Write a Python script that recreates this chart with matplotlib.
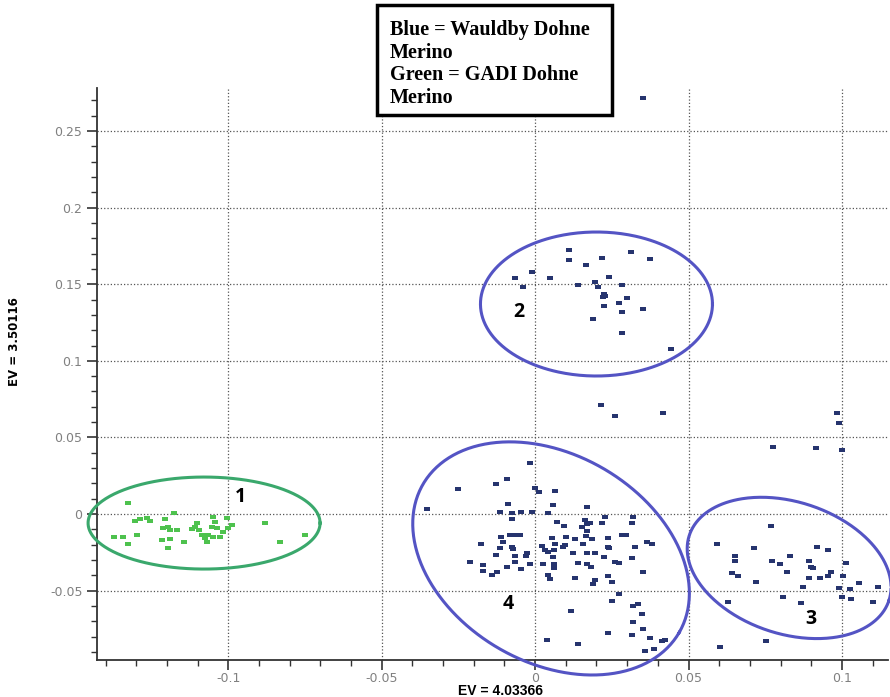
import numpy as np
import matplotlib
matplotlib.use('Agg')
import matplotlib.pyplot as plt
from matplotlib.patches import Rectangle

# GADI Dohne Merino (green)
green_x = [-0.1326, -0.1304, -0.1287, -0.1266, -0.1255, -0.1206, -0.1177, -0.1371, -0.1342, -0.1298,
           -0.1326, -0.1212, -0.1197, -0.1190, -0.1168, -0.1217, -0.1190, -0.1195, -0.1146, -0.1119,
           -0.1108, -0.1097, -0.1103, -0.1086, -0.1076, -0.1049, -0.1043, -0.1054, -0.1037, -0.1065,
           -0.1049, -0.1027, -0.1070, -0.1005, -0.0989, -0.1000, -0.1016, -0.0880, -0.0831, -0.0750]
green_y = [0.0070, -0.0044, -0.0035, -0.0028, -0.0044, -0.0035, 0.0005, -0.0148, -0.0148, -0.0137,
           -0.0198, -0.0093, -0.0083, -0.0104, -0.0104, -0.0170, -0.0163, -0.0220, -0.0181, -0.0100,
           -0.0083, -0.0104, -0.0061, -0.0137, -0.0159, -0.0018, -0.0050, -0.0083, -0.0093, -0.0137,
           -0.0148, -0.0148, -0.0181, -0.0028, -0.0072, -0.0093, -0.0116, -0.0061, -0.0185, -0.0137]

# Wauldby Dohne Merino (blue)
blue_x = [
    # group 2
    0.0109, 0.0109, -0.0011, -0.0065, -0.0040, 0.0049, 0.0166, 0.0217, 0.0312, 0.0373,
    0.0241, 0.0196, 0.0204, 0.0139, 0.0283, 0.0225, 0.0228, 0.0221, 0.0299, 0.0272,
    0.0225, 0.0351, 0.0283, 0.0190, 0.0283, 0.0442,
    # outliers
    0.0352, 0.0215, 0.0261, 0.0416, 0.0983, 0.0992, 0.0777, 0.0916, 0.1000,
    # group 3
    0.0768, 0.0592, 0.0712, 0.0652, 0.0652, 0.0771, 0.0799, 0.0831, 0.0918, 0.0954,
    0.0893, 0.0899, 0.0905, 0.1014, 0.0641, 0.0661, 0.0820, 0.0719, 0.0893, 0.0929,
    0.0956, 0.0964, 0.1005, 0.0873, 0.0992, 0.1025, 0.1057, 0.1119, 0.1000, 0.1029,
    0.1101, 0.0807, 0.0867, 0.0628, 0.0753, 0.0603,
    # group 4
    -0.0016, -0.0092, -0.0127, -0.0252, 0.0000, 0.0014, 0.0065, -0.0351, -0.0087, -0.0116,
    -0.0076, -0.0046, -0.0011, 0.0043, 0.0058, 0.0071, -0.0076, -0.0081, -0.0065, -0.0049,
    -0.0111, -0.0105, -0.0177, -0.0116, -0.0076, -0.0072, -0.0127, -0.0065, -0.0027, -0.0030,
    -0.0212, -0.0170, -0.0092, -0.0067, -0.0016, -0.0047, -0.0170, -0.0141, -0.0125, 0.0022,
    0.0033, 0.0043, 0.0062, 0.0058, 0.0054, 0.0065, 0.0025, 0.0062, 0.0062, 0.0043,
    0.0049, 0.0038,
    0.0168, 0.0095, 0.0163, 0.0168, 0.0179, 0.0152, 0.0217, 0.0228, 0.0320, 0.0315,
    0.0168, 0.0166, 0.0185, 0.0101, 0.0130, 0.0236, 0.0283, 0.0297, 0.0098, 0.0090,
    0.0155, 0.0236, 0.0242, 0.0326, 0.0364, 0.0380, 0.0125, 0.0168, 0.0196, 0.0225,
    0.0261, 0.0272, 0.0315, 0.0141, 0.0170, 0.0182, 0.0351, 0.0130, 0.0196, 0.0190,
    0.0239, 0.0250, 0.0272, 0.0250, 0.0116, 0.0320, 0.0337, 0.0348, 0.0320, 0.0351,
    0.0239, 0.0315, 0.0373, 0.0413, 0.0424, 0.0141, 0.0359, 0.0386]
blue_y = [
    0.1723, 0.1658, 0.1582, 0.1538, 0.1480, 0.1542, 0.1625, 0.1673, 0.1708, 0.1664,
    0.1549, 0.1512, 0.1484, 0.1495, 0.1495, 0.1434, 0.1423, 0.1418, 0.1408, 0.1375,
    0.1360, 0.1338, 0.1317, 0.1271, 0.1180, 0.1077,
    0.2715, 0.0711, 0.0640, 0.0661, 0.0657, 0.0596, 0.0439, 0.0429, 0.0418,
    -0.0076, -0.0196, -0.0224, -0.0274, -0.0305, -0.0305, -0.0324, -0.0272, -0.0217, -0.0237,
    -0.0305, -0.0344, -0.0355, -0.0318, -0.0387, -0.0405, -0.0379, -0.0442, -0.0420, -0.0420,
    -0.0405, -0.0377, -0.0403, -0.0474, -0.0485, -0.0492, -0.0448, -0.0474, -0.0540, -0.0557,
    -0.0572, -0.0540, -0.0583, -0.0576, -0.0829, -0.0866,
    0.0331, 0.0226, 0.0194, 0.0161, 0.0168, 0.0146, 0.0152, 0.0035, 0.0063, 0.0013,
    0.0008, 0.0013, 0.0013, 0.0005, 0.0059, -0.0050, -0.0035, -0.0139, -0.0139, -0.0139,
    -0.0152, -0.0183, -0.0194, -0.0224, -0.0213, -0.0230, -0.0270, -0.0274, -0.0257, -0.0274,
    -0.0311, -0.0333, -0.0344, -0.0311, -0.0328, -0.0361, -0.0370, -0.0398, -0.0377, -0.0209,
    -0.0235, -0.0246, -0.0235, -0.0283, -0.0157, -0.0198, -0.0328, -0.0326, -0.0355, -0.0398,
    -0.0426, -0.0822,
    0.0044, -0.0078, -0.0039, -0.0065, -0.0057, -0.0087, -0.0057, -0.0018, -0.0018, -0.0061,
    -0.0111, -0.0144, -0.0165, -0.0152, -0.0165, -0.0155, -0.0137, -0.0137, -0.0202, -0.0213,
    -0.0198, -0.0213, -0.0224, -0.0213, -0.0181, -0.0196, -0.0253, -0.0257, -0.0253, -0.0283,
    -0.0311, -0.0322, -0.0289, -0.0322, -0.0326, -0.0344, -0.0377, -0.0416, -0.0431, -0.0459,
    -0.0405, -0.0442, -0.0522, -0.0566, -0.0631, -0.0601, -0.0589, -0.0653, -0.0703, -0.0753,
    -0.0775, -0.0792, -0.0811, -0.0827, -0.0822, -0.0851, -0.0894, -0.0883]

# group ellipses: label, centre (data), semi-axes (px), tilt (deg), colour
group_labels = ['1', '2', '3', '4']
group_centres = [(-0.1079, -0.0059), (0.0200, 0.1371), (0.0828, -0.0352), (0.0052, -0.0290)]
group_axes_px = [(116, 46), (116, 72), (105, 66), (148, 104)]
group_tilt = [0, 0, -18, -30]
group_colors = ['#3aa86c', '#5454c4', '#5454c4', '#5454c4']
label_pos = [(-0.0962, 0.0111), (-0.0052, 0.1319), (0.0900, -0.0685), (-0.0088, -0.0587)]

legend_lines = ['Blue = Wauldby Dohne', 'Merino', 'Green = GADI Dohne', 'Merino']

fig = plt.figure(figsize=(8.9, 6.97), dpi=100)
ax = fig.add_axes([0.109, 0.0531, 0.889, 0.8206])
ax.set_xlim(-0.1428, 0.1151)
ax.set_ylim(-0.0953, 0.2781)

rect = np.array([(-1, -0.55), (1, -0.55), (1, 0.55), (-1, 0.55), (-1, -0.55)])
ax.scatter(green_x, green_y, marker=rect, s=22, color='#4ec24e', linewidths=0, zorder=3)
ax.scatter(blue_x, blue_y, marker=rect, s=22, color='#26346e', linewidths=0, zorder=3)

# pixels per data unit, to draw the ellipses in screen space
sx = ax.bbox.width / (ax.get_xlim()[1] - ax.get_xlim()[0])
sy = ax.bbox.height / (ax.get_ylim()[1] - ax.get_ylim()[0])
t = np.linspace(0, 2 * np.pi, 400)
for (cx, cy), (a, b), ang, col in zip(group_centres, group_axes_px, group_tilt, group_colors):
    r = np.deg2rad(ang)
    u, v = a * np.cos(t), b * np.sin(t)
    ex = cx + (u * np.cos(r) - v * np.sin(r)) / sx
    ey = cy + (u * np.sin(r) + v * np.cos(r)) / sy
    ax.plot(ex, ey, color=col, lw=2.2, clip_on=False, zorder=4)

for lab, (lx, ly) in zip(group_labels, label_pos):
    ax.text(lx, ly, lab, fontsize=14, fontweight='bold', ha='center', va='center',
            family='Open Sans', zorder=5)

ax.set_xticks([-0.1, -0.05, 0, 0.05, 0.1])
ax.set_xticklabels(['-0.1', '-0.05', '0', '0.05', '0.1'])
ax.set_yticks([-0.05, 0, 0.05, 0.1, 0.15, 0.2, 0.25])
ax.set_yticklabels(['-0.05', '0', '0.05', '0.1', '0.15', '0.2', '0.25'])
ax.xaxis.set_minor_locator(plt.MultipleLocator(0.01))
ax.yaxis.set_minor_locator(plt.MultipleLocator(0.01))
ax.tick_params(which='major', length=7, width=1.2, labelsize=9, labelcolor='#808080', color='#333333')
ax.tick_params(axis='x', which='major', pad=1.5)
ax.tick_params(which='minor', length=4, width=1.0, color='#333333')
ax.grid(True, which='major', linestyle=':', color='#555555', lw=0.9)
ax.set_axisbelow(True)
for sp in ['top', 'right']:
    ax.spines[sp].set_visible(False)
for sp in ['left', 'bottom']:
    ax.spines[sp].set_linewidth(1.3)
    ax.spines[sp].set_color('#333333')

ax.set_xlabel('EV = 4.03366', fontsize=10, fontweight='bold', family='Liberation Sans', va='center')
ax.xaxis.set_label_coords(0.51, -0.0535)
ax.set_ylabel('EV = 3.50116', fontsize=8.5, fontweight='bold', va='center')
ax.yaxis.set_label_coords(-0.104, 0.556)

# legend box
fig.add_artist(Rectangle((377 / 890, 1 - 115 / 697), 235 / 890, 110 / 697, transform=fig.transFigure,
                         facecolor='white', edgecolor='black', lw=2.5, zorder=10))
fig.text(390 / 890, 1 - 20 / 697, '\n'.join(legend_lines), ha='left', va='top', fontsize=14.5,
         fontweight='bold', family='Liberation Serif', linespacing=1.17, zorder=11)

fig.savefig('out.png', dpi=100)
